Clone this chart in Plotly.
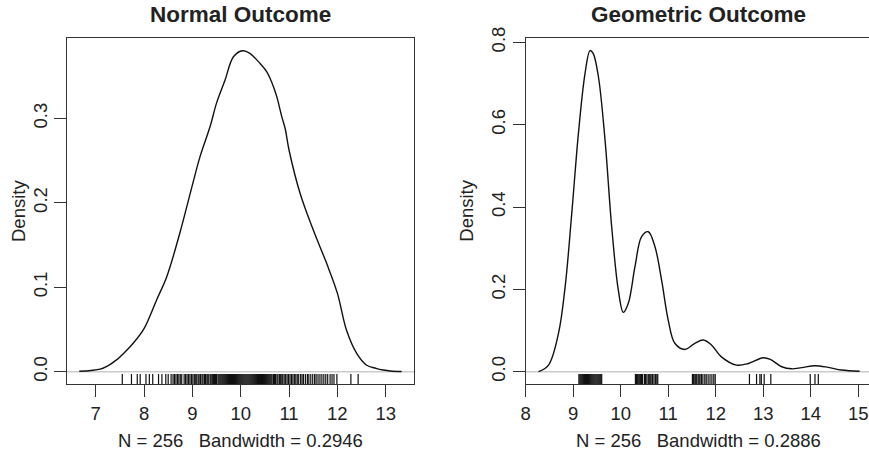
import plotly.graph_objects as go

W, H = 869, 452

# ---- Normal outcome: density curve ----
norm_x = [6.66, 6.9, 7.09, 7.25, 7.43, 7.6, 7.78, 8.0, 8.26, 8.47, 8.74, 9.0, 9.16, 9.365,
          9.5, 9.675, 9.85, 10.04, 10.19, 10.40, 10.54, 10.64, 10.745, 10.85, 10.92, 11.0,
          11.23, 11.5, 11.78, 12.0, 12.19, 12.4, 12.6, 12.8, 12.95, 13.1, 13.33]
norm_y = [0.0005, 0.0015, 0.003, 0.007, 0.014, 0.023, 0.034, 0.051, 0.085, 0.1125, 0.164,
          0.221, 0.255, 0.290, 0.318, 0.345, 0.373, 0.380, 0.377, 0.365, 0.355, 0.343, 0.326,
          0.302, 0.288, 0.2625, 0.211, 0.168, 0.128, 0.093, 0.049, 0.0217, 0.008, 0.004,
          0.002, 0.0008, 0.0002]

norm_rug = [7.55, 7.74, 7.86, 7.92, 8.04, 8.11, 8.18, 8.30, 8.37, 8.45, 8.50, 8.56, 8.60,
            8.63, 8.66, 8.69, 8.72, 8.75, 8.78, 8.83, 8.86, 8.89, 8.92, 8.95, 8.98, 9.01,
            9.04, 9.06, 9.09, 9.12, 9.14, 9.17, 9.20, 9.22, 9.25, 9.27, 9.30, 9.32, 9.34,
            9.37, 9.39, 9.42, 9.44, 9.46, 9.48, 9.50, 9.53, 9.55, 9.57, 9.59, 9.61, 9.63,
            9.65, 9.67, 9.69, 9.71, 9.73, 9.75, 9.77, 9.79, 9.81, 9.83, 9.85, 9.87, 9.89,
            9.91, 9.93, 9.95, 9.97, 9.99, 10.01, 10.03, 10.05, 10.07, 10.09, 10.11, 10.13,
            10.15, 10.17, 10.19, 10.21, 10.23, 10.25, 10.27, 10.29, 10.31, 10.33, 10.35,
            10.37, 10.39, 10.41, 10.43, 10.45, 10.47, 10.49, 10.51, 10.53, 10.55, 10.57,
            10.59, 10.61, 10.63, 10.65, 10.68, 10.70, 10.72, 10.75, 10.77, 10.80, 10.82,
            10.85, 10.87, 10.90, 10.93, 10.96, 10.99, 11.02, 11.05, 11.08, 11.11, 11.14,
            11.17, 11.20, 11.24, 11.27, 11.30, 11.34, 11.38, 11.41, 11.45, 11.49, 11.53,
            11.56, 11.60, 11.64, 11.68, 11.72, 11.76, 11.80, 11.85, 11.89, 11.93, 11.99,
            12.28, 12.43]

# ---- Geometric outcome ----
geom_x = [8.27, 8.48, 8.69, 8.83, 8.97, 9.11, 9.25, 9.354, 9.42, 9.53, 9.67, 9.81, 9.95,
          10.055, 10.16, 10.30, 10.44, 10.58, 10.72, 10.86, 11.0, 11.14, 11.35, 11.56,
          11.74, 11.91, 12.12, 12.44, 12.69, 13.0, 13.15, 13.39, 13.6, 13.81, 14.09, 14.37,
          14.65, 15.03]
geom_y = [0.0, 0.016, 0.093, 0.206, 0.385, 0.579, 0.725, 0.780, 0.773, 0.717, 0.563, 0.352,
          0.198, 0.144, 0.166, 0.255, 0.328, 0.340, 0.304, 0.223, 0.1255, 0.069, 0.054,
          0.069, 0.077, 0.065, 0.036, 0.016, 0.020, 0.034, 0.030, 0.012, 0.007, 0.010,
          0.0146, 0.0105, 0.004, 0.0012]

geom_rug = [9.12, 9.14, 9.16, 9.18, 9.20, 9.22, 9.24, 9.26, 9.28, 9.30, 9.32, 9.34, 9.36,
            9.38, 9.40, 9.42, 9.44, 9.46, 9.48, 9.50, 9.52, 9.54, 9.56, 9.58, 9.60,
            10.31, 10.33, 10.35, 10.37, 10.40, 10.42, 10.44, 10.46, 10.50, 10.52, 10.55,
            10.58, 10.60, 10.62, 10.64, 10.67, 10.70, 10.73, 10.76, 10.78,
            11.51, 11.53, 11.56, 11.58, 11.60, 11.63, 11.65, 11.67, 11.70, 11.73, 11.77,
            11.80, 11.84, 11.88, 11.92, 11.96, 11.99,
            12.71, 12.86, 12.93, 12.96, 13.02, 13.16,
            13.99, 14.09, 14.16]

titles = ["Normal Outcome", "Geometric Outcome"]
xlabels = ["N = 256   Bandwidth = 0.2946", "N = 256   Bandwidth = 0.2886"]
x_ticks = [[7, 8, 9, 10, 11, 12, 13], [8, 9, 10, 11, 12, 13, 14, 15]]
y_ticks = [[0.0, 0.1, 0.2, 0.3], [0.0, 0.2, 0.4, 0.6, 0.8]]
y_ticklabels = [["0.0", "0.1", "0.2", "0.3"], ["0.0", "0.2", "0.4", "0.6", "0.8"]]

x_ranges = [[6.406, 13.592], [8.0, 15.227]]
y_ranges = [[-0.0149, 0.3955], [-0.0306, 0.8112]]

# pixel layout
left_px = [67.0, 525.7]
right_px = [414.3, 869.0]
top_px, bot_px = 37.7, 384.3
centers_px = [240.5, 698.5]
dens_px = [18.0, 465.7]

FONT = "Liberation Sans, Arial, Helvetica, sans-serif"
TXT = "#222222"
LINE = "#333333"

fig = go.Figure()

datasets = [(norm_x, norm_y, norm_rug), (geom_x, geom_y, geom_rug)]
for i, (cx, cy, rug) in enumerate(datasets):
    xa = "x" if i == 0 else "x2"
    ya = "y" if i == 0 else "y2"
    y0, y1 = y_ranges[i]
    rug_top = y0 + 0.03 * (y1 - y0)
    rx, ry = [], []
    for v in rug:
        rx += [v, v, None]
        ry += [y0, rug_top, None]
    fig.add_trace(go.Scatter(x=rx, y=ry, mode="lines", xaxis=xa, yaxis=ya,
                             line=dict(color="#111111", width=1.2), hoverinfo="skip",
                             showlegend=False))
    fig.add_trace(go.Scatter(x=cx, y=cy, mode="lines", xaxis=xa, yaxis=ya,
                             line=dict(color="#111111", width=1.4, shape="spline",
                                       smoothing=1.0),
                             showlegend=False))
    # zero line (gray)
    fig.add_shape(type="line", xref=f"{xa} domain", yref=ya, x0=0, x1=1, y0=0, y1=0,
                  line=dict(color="#cccccc", width=1.5), layer="below")

common_axis = dict(showgrid=False, zeroline=False, showline=True, linecolor=LINE,
                   linewidth=1, ticks="outside", ticklen=12, tickwidth=1, tickcolor=LINE,
                   automargin=False,
                   tickfont=dict(family=FONT, size=18.5, color=TXT))

layout = dict(width=W, height=H, margin=dict(l=0, r=0, t=0, b=0, pad=0),
              paper_bgcolor="white", plot_bgcolor="white", showlegend=False)

for i in range(2):
    sfx = "" if i == 0 else "2"
    dom_x = [left_px[i] / W, right_px[i] / W]
    dom_y = [1 - bot_px / H, 1 - top_px / H]
    layout["xaxis" + sfx] = dict(common_axis, domain=dom_x, range=x_ranges[i],
                                 tickmode="array", tickvals=x_ticks[i],
                                 ticktext=[str(t) for t in x_ticks[i]],
                                 mirror=True, anchor="y" + sfx)
    layout["yaxis" + sfx] = dict(common_axis, domain=dom_y, range=y_ranges[i],
                                 tickmode="array", tickvals=y_ticks[i],
                                 ticktext=y_ticklabels[i], tickangle=-90,
                                 mirror=(i == 0), anchor="x" + sfx)

fig.update_layout(**layout)

for i in range(2):
    fig.add_annotation(text="<b>" + titles[i] + "</b>", xref="paper", yref="paper",
                       x=centers_px[i] / W, y=1 - 15 / H, xanchor="center", yanchor="middle",
                       showarrow=False, font=dict(family=FONT, size=22.5, color=TXT))
    fig.add_annotation(text=xlabels[i], xref="paper", yref="paper",
                       x=centers_px[i] / W, y=1 - 440 / H, xanchor="center", yanchor="middle",
                       showarrow=False, font=dict(family=FONT, size=18.5, color=TXT))
    fig.add_annotation(text="Density", xref="paper", yref="paper", textangle=-90,
                       x=dens_px[i] / W, y=1 - 211 / H, xanchor="center", yanchor="middle",
                       showarrow=False, font=dict(family=FONT, size=18.5, color=TXT))

fig.write_html("out.html", config={"displayModeBar": False},
               post_script="document.body.style.margin='0';document.body.style.overflow='hidden';")
